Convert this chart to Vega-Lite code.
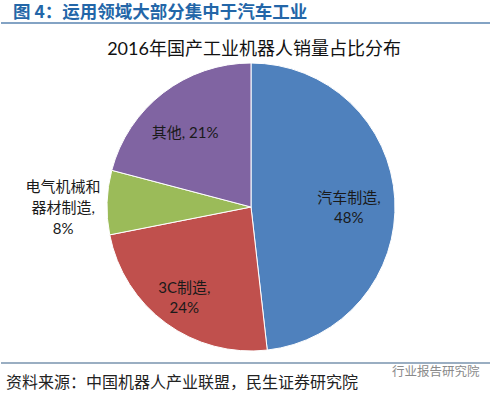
{
  "$schema": "https://vega.github.io/schema/vega-lite/v6.json",
  "padding": 0,
  "spacing": 0,
  "bounds": "flush",
  "background": "#ffffff",
  "config": {"view": {"stroke": null}},
  "vconcat": [
    {
      "width": 490,
      "height": 63,
      "data": {"values": [{"t": "图 4：运用领域大部分集中于汽车工业", "t2": "2016年国产工业机器人销量占比分布"}]},
      "layer": [
        {
          "mark": {"type": "text", "align": "left", "baseline": "alphabetic", "fontSize": 17.5, "fontWeight": "bold", "color": "#2366A8", "font": "Noto Sans CJK SC"},
          "encoding": {"text": {"field": "t"}, "x": {"value": 12}, "y": {"value": 18}}
        },
        {
          "mark": {"type": "rule", "color": "#5A85B0", "strokeWidth": 1.5},
          "encoding": {"y": {"value": 23}}
        },
        {
          "mark": {"type": "text", "align": "center", "baseline": "alphabetic", "fontSize": 18, "font": "Lato, Noto Sans CJK SC", "color": "#111111"},
          "encoding": {"text": {"field": "t2"}, "x": {"value": 253}, "y": {"value": 55}}
        }
      ]
    },
    {
      "width": 490,
      "height": 288,
      "data": {"values": [
        {"idx": 1, "category": "汽车制造", "value": 48.2, "label": "汽车制造,\n48%"},
        {"idx": 2, "category": "3C制造", "value": 23.7, "label": "3C制造,\n24%"},
        {"idx": 3, "category": "电气机械和器材制造", "value": 7.2, "label": "电气机械和\n器材制造,\n8%"},
        {"idx": 4, "category": "其他", "value": 20.9, "label": "其他, 21%"}
      ]},
      "encoding": {
        "theta": {"field": "value", "type": "quantitative", "stack": true},
        "order": {"field": "idx", "type": "quantitative"}
      },
      "layer": [
        {
          "mark": {"type": "arc", "outerRadius": 144, "stroke": "#ffffff", "strokeWidth": 1, "xOffset": 5},
          "encoding": {
            "color": {"field": "category", "type": "nominal", "legend": null,
              "scale": {"domain": ["汽车制造", "3C制造", "电气机械和器材制造", "其他"], "range": ["#4F81BD", "#C0504D", "#9BBB59", "#8064A2"]}}
          }
        },
        {
          "mark": {"type": "text", "radius": 98, "xOffset": 5, "yOffset": -3, "fontSize": 15, "lineHeight": 20, "lineBreak": "\n", "font": "Lato, Noto Sans CJK SC", "color": "#1a1a1a", "align": "center", "baseline": "middle"},
          "encoding": {
            "text": {"condition": {"test": "datum.idx === 1", "field": "label"}, "value": ""}
          }
        },
        {
          "mark": {"type": "text", "radius": 103, "xOffset": 2, "yOffset": 8, "fontSize": 15, "lineHeight": 20, "lineBreak": "\n", "font": "Lato, Noto Sans CJK SC", "color": "#1a1a1a", "align": "center", "baseline": "middle"},
          "encoding": {
            "text": {"condition": {"test": "datum.idx === 4", "field": "label"}, "value": ""}
          }
        },
        {
          "mark": {"type": "text", "radius": 113, "xOffset": 5, "yOffset": -10, "fontSize": 15, "lineHeight": 20, "lineBreak": "\n", "font": "Lato, Noto Sans CJK SC", "color": "#1a1a1a", "align": "center", "baseline": "middle"},
          "encoding": {
            "text": {"condition": {"test": "datum.idx === 2", "field": "label"}, "value": ""}
          }
        },
        {
          "mark": {"type": "text", "radius": 188, "xOffset": 5, "yOffset": -14, "fontSize": 15, "lineHeight": 21, "lineBreak": "\n", "font": "Lato, Noto Sans CJK SC", "color": "#1a1a1a", "align": "center", "baseline": "middle"},
          "encoding": {
            "text": {"condition": {"test": "datum.idx === 3", "field": "label"}, "value": ""}
          }
        }
      ]
    },
    {
      "width": 490,
      "height": 46,
      "data": {"values": [{"src": "资料来源：中国机器人产业联盟，民生证券研究院", "wm": "行业报告研究院"}]},
      "layer": [
        {
          "mark": {"type": "rule", "color": "#9AAEC2", "strokeWidth": 2},
          "encoding": {"y": {"value": 12}}
        },
        {
          "mark": {"type": "text", "align": "left", "baseline": "alphabetic", "fontSize": 16, "font": "Noto Sans CJK SC", "color": "#222222"},
          "encoding": {"text": {"field": "src"}, "x": {"value": 5}, "y": {"value": 37}}
        },
        {
          "mark": {"type": "text", "align": "left", "baseline": "alphabetic", "fontSize": 12.5, "font": "Noto Sans CJK SC", "color": "#8a8a8a"},
          "encoding": {"text": {"field": "wm"}, "x": {"value": 391}, "y": {"value": 25}}
        }
      ]
    }
  ]
}
